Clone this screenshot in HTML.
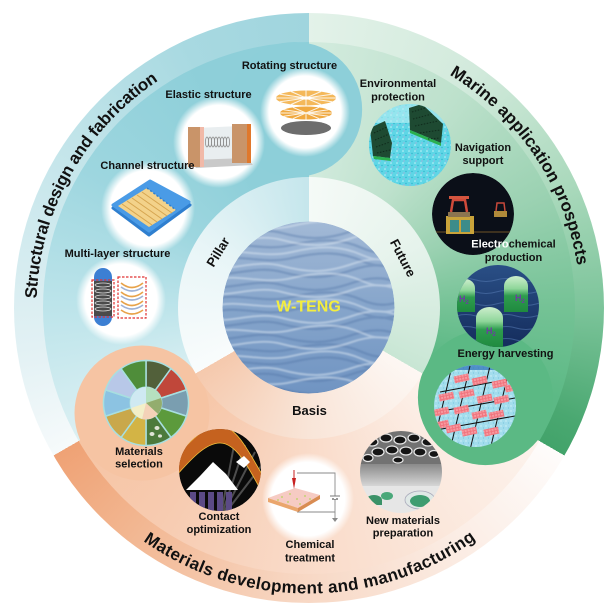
<!DOCTYPE html>
<html><head><meta charset="utf-8">
<style>
html,body{margin:0;padding:0;background:#fff;}
#root{position:relative;width:613px;height:610px;overflow:hidden;background:#fff;font-family:"Liberation Sans",Arial,sans-serif;}
.ring{position:absolute;border-radius:50%;}
svg{position:absolute;left:0;top:0;}
</style></head><body>
<div id="root">
<div class="ring" style="left:13.5px;top:12.5px;width:590px;height:590px;background:conic-gradient(#e3f2e9 0deg,#d2eadc 35deg,#aad9bc 65deg,#7cc49a 90deg,#4aa871 113deg,#42a36a 120deg,#fefcfb 120deg,#fbebe2 150deg,#f7d5c0 185deg,#f2b58f 220deg,#efa275 240deg,#f6fafb 240deg,#e2f1f4 262deg,#c6e6eb 300deg,#a8d9e1 335deg,#a0d5de 360deg);"></div>
<div class="ring" style="left:42.5px;top:41.5px;width:532px;height:532px;background:conic-gradient(#d3ebde 0deg,#bde1cc 35deg,#9ad1b1 65deg,#74c295 90deg,#5cb985 110deg,#5bb984 120deg,#fdf3ed 120deg,#fbe7db 150deg,#f9d9c6 185deg,#f7cbb0 215deg,#f6c4a3 240deg,#dcf0f3 240deg,#bfe5eb 268deg,#9dd6df 302deg,#8ecfd9 335deg,#8dcfd9 360deg);"></div>
<svg width="613" height="610" viewBox="0 0 613 610">
<circle cx="294.65" cy="109.5" r="67.5" fill="#8dcfd9"/>
<circle cx="485.4" cy="397.6" r="67.5" fill="#5bb984"/>
<circle cx="142" cy="413" r="67.5" fill="#f6c4a3"/>
</svg>
<div class="ring" style="left:177.5px;top:176.5px;width:262px;height:262px;background:conic-gradient(#f5faf7 0deg,#e6f3ec 60deg,#c8e6d4 120deg,#fdf7f3 120deg,#f9e5d8 180deg,#f5c9ad 240deg,#f9fcfc 240deg,#e8f5f7 300deg,#c5e6ec 360deg);"></div>
<svg width="613" height="610" viewBox="0 0 613 610">
<defs>
<radialGradient id="wg"><stop offset="0" stop-color="#fff"/><stop offset="0.8" stop-color="#fff"/><stop offset="1" stop-color="#fff" stop-opacity="0"/></radialGradient>
<linearGradient id="sea" x1="0" y1="0" x2="0" y2="1"><stop offset="0" stop-color="#a2b9d6"/><stop offset="0.5" stop-color="#86a5cb"/><stop offset="1" stop-color="#7094c2"/></linearGradient>
<linearGradient id="capg" x1="0" y1="0" x2="0" y2="1"><stop offset="0" stop-color="#cdeecd"/><stop offset="0.35" stop-color="#8fd69a"/><stop offset="0.55" stop-color="#2e9c4e"/><stop offset="1" stop-color="#1f8a3f"/></linearGradient>
<linearGradient id="ocean" x1="0" y1="0" x2="0" y2="1"><stop offset="0" stop-color="#2a4f86"/><stop offset="1" stop-color="#142c5c"/></linearGradient>
<linearGradient id="nmg" x1="0" y1="0" x2="0" y2="1"><stop offset="0" stop-color="#8a8a8a"/><stop offset="1" stop-color="#d6d6d6"/></linearGradient>
<filter id="soft" x="-5%" y="-5%" width="110%" height="110%"><feGaussianBlur stdDeviation="0.7"/></filter>
<pattern id="spk" width="6" height="6" patternUnits="userSpaceOnUse"><rect width="6" height="6" fill="#5fd6e6"/><circle cx="1" cy="1" r="0.8" fill="#c4f3f8"/><circle cx="4" cy="3.5" r="0.7" fill="#2fb4cc"/><circle cx="2" cy="5" r="0.5" fill="#ee7fd0"/></pattern>
<pattern id="spk2" width="5" height="5" patternUnits="userSpaceOnUse"><rect width="5" height="5" fill="#a3dded"/><circle cx="1" cy="1" r="0.7" fill="#d6f3f8"/><circle cx="3.5" cy="3" r="0.6" fill="#78c7dc"/></pattern>
<pattern id="pk" width="3" height="3" patternUnits="userSpaceOnUse"><rect width="3" height="3" fill="#f0747e"/><rect width="2" height="2" fill="#f79aa0"/></pattern>
<clipPath id="cw"><circle cx="308.5" cy="307.5" r="86"/></clipPath>
<clipPath id="c5"><circle cx="410" cy="145" r="41"/></clipPath>
<clipPath id="c6"><circle cx="473" cy="214" r="41"/></clipPath>
<clipPath id="c7"><circle cx="498" cy="306" r="41"/></clipPath>
<clipPath id="c8"><circle cx="475" cy="406" r="41"/></clipPath>
<clipPath id="c10"><circle cx="220" cy="470" r="41"/></clipPath>
<clipPath id="c12"><circle cx="401" cy="472" r="41"/></clipPath>
<path id="pStruct" d="M36.65,298.48 A272,272 0 0,1 158.37,80.68"/>
<path id="pMarine" d="M449.4,74.8 A272,272 0 0,1 577.3,265.9"/>
<path id="pMat" d="M143.23,540.92 A286,286 0 0,0 475.80,539.46"/>
</defs>

<!-- wave center -->
<g clip-path="url(#cw)" fill="none" stroke-linecap="round">
<circle cx="308.5" cy="307.5" r="86" fill="url(#sea)"/>
<g filter="url(#soft)">
<g stroke="#4f74a6" stroke-width="2.4" opacity="0.38">
<path d="M214,234 C232,238 256,226 282,233 S326,240 352,231 S392,227 412,236"/>
<path d="M214,260 C240,253 262,265 292,258 S342,252 362,261 S398,265 412,256"/>
<path d="M214,286 C232,290 256,278 282,285 S326,292 352,283 S392,279 412,288"/>
<path d="M214,312 C240,305 262,317 292,310 S342,304 362,313 S398,317 412,308"/>
<path d="M214,338 C232,342 256,330 282,337 S326,344 352,335 S392,331 412,340"/>
<path d="M214,364 C240,357 262,369 292,362 S342,356 362,365 S398,369 412,360"/>
<path d="M214,390 C232,394 256,382 282,389 S326,396 352,387 S392,383 412,392"/>
<path d="M214,247 C240,240 262,252 292,245 S342,239 362,248 S398,252 412,243"/>
<path d="M214,273 C232,277 256,265 282,272 S326,279 352,270 S392,266 412,275"/>
<path d="M214,299 C240,292 262,304 292,297 S342,291 362,300 S398,304 412,295"/>
<path d="M214,325 C232,329 256,317 282,324 S326,331 352,322 S392,318 412,327"/>
<path d="M214,351 C240,344 262,356 292,349 S342,343 362,352 S398,356 412,347"/>
<path d="M214,377 C232,381 256,369 282,376 S326,383 352,374 S392,370 412,379"/>
</g>
<g stroke="#d8e3f0" stroke-width="2" opacity="0.55">
<path d="M214,228 C240,221 262,233 292,226 S342,220 362,229 S398,233 412,224"/>
<path d="M214,241 C232,245 256,233 282,240 S326,247 352,238 S392,234 412,243"/>
<path d="M214,254 C240,247 262,259 292,252 S342,246 362,255 S398,259 412,250"/>
<path d="M214,267 C232,271 256,259 282,266 S326,273 352,264 S392,260 412,269"/>
<path d="M214,280 C240,273 262,285 292,278 S342,272 362,281 S398,285 412,276"/>
<path d="M214,293 C232,297 256,285 282,292 S326,299 352,290 S392,286 412,295"/>
<path d="M214,306 C240,299 262,311 292,304 S342,298 362,307 S398,311 412,302"/>
<path d="M214,319 C232,323 256,311 282,318 S326,325 352,316 S392,312 412,321"/>
<path d="M214,332 C240,325 262,337 292,330 S342,324 362,333 S398,337 412,328"/>
<path d="M214,345 C232,349 256,337 282,344 S326,351 352,342 S392,338 412,347"/>
<path d="M214,358 C240,351 262,363 292,356 S342,350 362,359 S398,363 412,354"/>
<path d="M214,371 C232,375 256,363 282,370 S326,377 352,368 S392,364 412,373"/>
<path d="M214,384 C240,377 262,389 292,382 S342,376 362,385 S398,389 412,380"/>
<path d="M214,397 C232,401 256,389 282,396 S326,403 352,394 S392,390 412,399"/>
</g>
</g>
</g>

<!-- Rotating structure -->
<circle cx="305" cy="112" r="45" fill="url(#wg)"/>
<ellipse cx="306" cy="128" rx="25" ry="7" fill="#6d6d6d"/>
<ellipse cx="306" cy="113" rx="26" ry="6.5" fill="#f0a940"/>
<g stroke="#fff" stroke-width="1" opacity="0.85">
<line x1="306" y1="113" x2="332" y2="113"/><line x1="306" y1="113" x2="328.5" y2="116.25"/><line x1="306" y1="113" x2="319" y2="118.6"/><line x1="306" y1="113" x2="306" y2="119.5"/><line x1="306" y1="113" x2="293" y2="118.6"/><line x1="306" y1="113" x2="283.5" y2="116.25"/><line x1="306" y1="113" x2="280" y2="113"/><line x1="306" y1="113" x2="283.5" y2="109.75"/><line x1="306" y1="113" x2="293" y2="107.4"/><line x1="306" y1="113" x2="319" y2="107.4"/><line x1="306" y1="113" x2="328.5" y2="109.75"/>
</g>
<ellipse cx="306" cy="98" rx="30" ry="7.5" fill="#f4b85a"/>
<g stroke="#fff" stroke-width="1" opacity="0.85">
<line x1="306" y1="98" x2="336" y2="98"/><line x1="306" y1="98" x2="332" y2="101.75"/><line x1="306" y1="98" x2="321" y2="104.5"/><line x1="306" y1="98" x2="306" y2="105.5"/><line x1="306" y1="98" x2="291" y2="104.5"/><line x1="306" y1="98" x2="280" y2="101.75"/><line x1="306" y1="98" x2="276" y2="98"/><line x1="306" y1="98" x2="280" y2="94.25"/><line x1="306" y1="98" x2="291" y2="91.5"/><line x1="306" y1="98" x2="306" y2="90.5"/><line x1="306" y1="98" x2="321" y2="91.5"/><line x1="306" y1="98" x2="332" y2="94.25"/>
</g>
<ellipse cx="306" cy="98" rx="6" ry="1.6" fill="#fff"/>

<!-- Elastic -->
<circle cx="219" cy="142" r="46" fill="url(#wg)"/>
<polygon points="196,128 240,126 246,160 190,162" fill="#e9eef0"/>
<polygon points="190,160 247,158 253,165 196,168" fill="#c9c9c9"/>
<rect x="188" y="127" width="13" height="40" fill="#c99469"/>
<rect x="200" y="127" width="4" height="40" fill="#f1b9a8"/>
<rect x="232" y="124" width="16" height="39" fill="#c99469"/>
<rect x="247" y="124" width="4" height="39" fill="#e0782c"/>
<g fill="none" stroke="#8f8f8f" stroke-width="0.8">
<ellipse cx="207" cy="142" rx="1.6" ry="5"/><ellipse cx="210" cy="142" rx="1.6" ry="5"/><ellipse cx="213" cy="142" rx="1.6" ry="5"/><ellipse cx="216" cy="142" rx="1.6" ry="5"/><ellipse cx="219" cy="142" rx="1.6" ry="5"/><ellipse cx="222" cy="142" rx="1.6" ry="5"/><ellipse cx="225" cy="142" rx="1.6" ry="5"/><ellipse cx="228" cy="142" rx="1.6" ry="5"/>
</g>

<!-- Channel -->
<circle cx="148" cy="208" r="47" fill="url(#wg)"/>
<polygon points="113,208 150,184 190,205 149,235" fill="#2f7fcf" stroke="#2f7fcf" stroke-width="3" stroke-linejoin="round"/>
<polygon points="113,205 150,181 189,202 149,231" fill="#4a9be6" stroke="#4a9be6" stroke-width="3" stroke-linejoin="round"/>
<polygon points="118,206 147,188 176,210 149,227" fill="#f3d28a"/>
<g stroke="#d6a550" stroke-width="1">
<line x1="122" y1="204" x2="152" y2="225"/><line x1="127" y1="201" x2="157" y2="222"/><line x1="132" y1="198" x2="162" y2="219"/><line x1="137" y1="195" x2="167" y2="216"/><line x1="142" y1="192" x2="172" y2="213"/>
</g>
<line x1="147" y1="188" x2="176" y2="210" stroke="#2f7fcf" stroke-width="1.5" stroke-dasharray="2,2"/>

<!-- Multi-layer -->
<circle cx="121" cy="300" r="45" fill="url(#wg)"/>
<rect x="94" y="268" width="18" height="58" rx="9" fill="#3c7fd3"/>
<rect x="94" y="281" width="18" height="35" fill="#4a4a4a"/>
<g fill="none" stroke="#dcdcdc" stroke-width="0.8">
<ellipse cx="103" cy="285" rx="8" ry="2"/><ellipse cx="103" cy="291" rx="8" ry="2"/><ellipse cx="103" cy="297" rx="8" ry="2"/><ellipse cx="103" cy="303" rx="8" ry="2"/><ellipse cx="103" cy="309" rx="8" ry="2"/>
</g>
<rect x="92" y="280" width="22" height="37" fill="none" stroke="#e03030" stroke-width="1.2" stroke-dasharray="2.5,1.5"/>
<rect x="118" y="277" width="28" height="41" fill="none" stroke="#e03030" stroke-width="1.2" stroke-dasharray="2.5,1.5"/>
<g fill="none" stroke-width="1.6">
<path d="M121,283 Q132,292 143,283" stroke="#e8a34a"/><path d="M121,292 Q132,301 143,292" stroke="#e8a34a"/><path d="M121,301 Q132,310 143,301" stroke="#e8a34a"/><path d="M121,310 Q132,318 143,310" stroke="#e8a34a"/>
<path d="M121,287 Q132,295 143,287" stroke="#9fb2d6"/><path d="M121,296 Q132,304 143,296" stroke="#9fb2d6"/><path d="M121,305 Q132,313 143,305" stroke="#9fb2d6"/>
</g>

<!-- Environmental -->
<g clip-path="url(#c5)">
<rect x="368" y="103" width="84" height="84" fill="url(#spk)"/>
<rect x="368" y="103" width="84" height="20" fill="#b8eef4" opacity="0.6"/>
<polygon points="370,128 385,121 392,143 390,158 373,156" fill="#1e4a32"/>
<polygon points="373,156 390,158 391,161 374,159" fill="#2bb04e"/>
<polygon points="409,108 422,104 443,124 441,143 410,130" fill="#1e4a32"/>
<polygon points="410,130 441,143 441,146 410,133" fill="#2bb04e"/>
<g stroke="#0d2417" stroke-width="1" stroke-dasharray="1.5,1.5" opacity="0.8">
<line x1="374" y1="133" x2="387" y2="127"/><line x1="375" y1="140" x2="389" y2="134"/><line x1="376" y1="147" x2="390" y2="142"/><line x1="377" y1="153" x2="390" y2="150"/>
<line x1="412" y1="112" x2="425" y2="108"/><line x1="413" y1="119" x2="432" y2="114"/><line x1="415" y1="126" x2="438" y2="121"/><line x1="420" y1="133" x2="440" y2="130"/><line x1="428" y1="139" x2="440" y2="138"/>
</g>
</g>

<!-- Navigation -->
<g clip-path="url(#c6)">
<circle cx="473" cy="214" r="41" fill="#0b0f18"/>
<rect x="432" y="231" width="82" height="2" fill="#4a3a22" opacity="0.8"/>
<rect x="446" y="216" width="28" height="18" fill="#c9a33a"/>
<rect x="450" y="220" width="9" height="12" fill="#3d8c8a"/>
<rect x="461" y="220" width="9" height="12" fill="#3d8c8a"/>
<rect x="448" y="212" width="22" height="5" fill="#8b7450"/>
<path d="M451,212 L453,200 L465,200 L467,212" stroke="#d04a3a" fill="none" stroke-width="2.5"/>
<rect x="449" y="196" width="20" height="3" fill="#d4553f"/>
<rect x="494" y="211" width="13" height="6" fill="#b08a3a"/>
<path d="M496,211 L497,203 L504,203 L505,211" stroke="#c8483a" fill="none" stroke-width="1.5"/>
</g>

<!-- Electrochemical -->
<g clip-path="url(#c7)">
<rect x="456" y="264" width="84" height="84" fill="url(#ocean)"/>
<g stroke="#5478b0" stroke-width="1" fill="none" opacity="0.6">
<path d="M456,280 q10,-3 20,0 t20,0 t20,0 t20,0 t20,0"/><path d="M456,292 q10,-3 20,0 t20,0 t20,0 t20,0 t20,0"/><path d="M456,304 q10,-3 20,0 t20,0 t20,0 t20,0 t20,0"/><path d="M456,316 q10,-3 20,0 t20,0 t20,0 t20,0 t20,0"/><path d="M456,328 q10,-3 20,0 t20,0 t20,0 t20,0 t20,0"/><path d="M456,340 q10,-3 20,0 t20,0 t20,0 t20,0 t20,0"/>
</g>
<path d="M455,312 L455,288 A10,9 0 0 1 475,288 L475,312 Z" fill="url(#capg)"/>
<path d="M504,312 L504,286 A12,10 0 0 1 528,286 L528,312 Z" fill="url(#capg)"/>
<path d="M476,348 L476,318 A13.5,11 0 0 1 503,318 L503,348 Z" fill="url(#capg)"/>
<g font-family="Liberation Sans, Arial, sans-serif" font-weight="bold" font-size="9" fill="#6b3fa0">
<text x="459" y="302">H<tspan font-size="6" dy="2">2</tspan></text>
<text x="515" y="301">H<tspan font-size="6" dy="2">2</tspan></text>
<text x="486" y="334">H<tspan font-size="6" dy="2">2</tspan></text>
</g>
</g>

<!-- Energy harvesting mesh -->
<g clip-path="url(#c8)">
<rect x="433" y="364" width="84" height="84" fill="url(#spk2)"/>
<rect x="433" y="364" width="84" height="6" fill="#2c6fb8" opacity="0.7"/>
<g stroke="#111" stroke-width="1">
<line x1="452" y1="366" x2="432" y2="450"/><line x1="470" y1="366" x2="450" y2="450"/><line x1="490" y1="366" x2="470" y2="450"/><line x1="510" y1="366" x2="490" y2="450"/><line x1="528" y1="366" x2="508" y2="450"/>
<line x1="440" y1="392" x2="515" y2="378"/><line x1="436" y1="412" x2="515" y2="398"/><line x1="436" y1="430" x2="515" y2="416"/>
</g>
<g fill="url(#pk)">
<rect x="454" y="375" width="15" height="7" transform="rotate(-12 461 378)"/>
<rect x="472" y="377" width="15" height="7" transform="rotate(-12 480 380)"/>
<rect x="492" y="380" width="15" height="7" transform="rotate(-12 500 383)"/>
<rect x="505" y="385" width="10" height="7" transform="rotate(-12 508 388)"/>
<rect x="439" y="393" width="15" height="7" transform="rotate(-12 447 397)"/>
<rect x="459" y="390" width="15" height="7" transform="rotate(-12 467 393)"/>
<rect x="477" y="395" width="15" height="7" transform="rotate(-12 485 398)"/>
<rect x="494" y="396" width="15" height="7" transform="rotate(-12 502 400)"/>
<rect x="434" y="408" width="15" height="7" transform="rotate(-12 442 412)"/>
<rect x="454" y="406" width="15" height="7" transform="rotate(-12 462 410)"/>
<rect x="472" y="411" width="15" height="7" transform="rotate(-12 480 415)"/>
<rect x="489" y="411" width="15" height="7" transform="rotate(-12 497 415)"/>
<rect x="434" y="421" width="15" height="7" transform="rotate(-12 442 425)"/>
<rect x="446" y="425" width="15" height="7" transform="rotate(-12 453 428)"/>
<rect x="462" y="428" width="15" height="7" transform="rotate(-12 470 432)"/>
<rect x="484" y="428" width="15" height="7" transform="rotate(-12 492 432)"/>
</g>
</g>

<!-- Materials selection wheel -->
<g stroke="#a8dfe0" stroke-width="1.5">
<path d="M146,403 L146,360.5 A42.5,42.5 0 0 1 170.98,368.62 Z" fill="#52603a"/>
<path d="M146,403 L170.98,368.62 A42.5,42.5 0 0 1 186.42,389.87 Z" fill="#c0473a"/>
<path d="M146,403 L186.42,389.87 A42.5,42.5 0 0 1 186.42,416.13 Z" fill="#7a9eb0"/>
<path d="M146,403 L186.42,416.13 A42.5,42.5 0 0 1 170.98,437.38 Z" fill="#5c9a3c"/>
<path d="M146,403 L170.98,437.38 A42.5,42.5 0 0 1 146,445.5 Z" fill="#4c7a3c"/>
<path d="M146,403 L146,445.5 A42.5,42.5 0 0 1 121.02,437.38 Z" fill="#d3b445"/>
<path d="M146,403 L121.02,437.38 A42.5,42.5 0 0 1 105.58,416.13 Z" fill="#c9a84b"/>
<path d="M146,403 L105.58,416.13 A42.5,42.5 0 0 1 105.58,389.87 Z" fill="#8cc3e2"/>
<path d="M146,403 L105.58,389.87 A42.5,42.5 0 0 1 121.02,368.62 Z" fill="#b8c8e8"/>
<path d="M146,403 L121.02,368.62 A42.5,42.5 0 0 1 146,360.5 Z" fill="#4f8d3a"/>
</g>
<g fill="#f0f0e8" opacity="0.9">
<ellipse cx="157" cy="428" rx="2.5" ry="2"/><ellipse cx="152" cy="434" rx="2.5" ry="2"/><ellipse cx="160" cy="436" rx="2" ry="1.6"/>
</g>
<circle cx="146" cy="403" r="16" fill="#d8edd8" stroke="#a8dfe0" stroke-width="1"/>
<path d="M146,403 L146,387 A16,16 0 0 1 161,398 Z" fill="#b6e0bf"/>
<path d="M146,403 L161,398 A16,16 0 0 1 158,414 Z" fill="#93ad6e"/>
<path d="M146,403 L158,414 A16,16 0 0 1 142,419 Z" fill="#f4d2b8"/>
<path d="M146,403 L142,419 A16,16 0 0 1 131,408 Z" fill="#f3efc8"/>
<path d="M146,403 L131,408 A16,16 0 0 1 146,387 Z" fill="#cfe9f2"/>

<!-- Contact optimization -->
<g clip-path="url(#c10)">
<circle cx="220" cy="470" r="41" fill="#0a0a0a"/>
<g stroke="#6a6a6a" stroke-width="2" opacity="0.7">
<line x1="220" y1="520" x2="235" y2="440"/><line x1="220" y1="520" x2="245" y2="445"/><line x1="220" y1="520" x2="255" y2="452"/><line x1="220" y1="520" x2="262" y2="465"/>
</g>
<path d="M176,458 C190,440 205,426 220,426 C236,426 248,450 264,478 L264,496 C248,466 236,443 220,443 C206,443 192,458 176,476 Z" fill="#c5621f" stroke="#f3c13a" stroke-width="0.8"/>
<polygon points="186,490 200,476 213,462 226,474 238,490" fill="#fff"/>
<polygon points="236,462 244,456 250,462 244,468" fill="#fff"/>
<g fill="#5b4a86">
<rect x="190" y="492" width="6" height="22"/><rect x="199" y="492" width="6" height="22"/><rect x="208" y="492" width="6" height="22"/><rect x="217" y="492" width="6" height="22"/><rect x="226" y="492" width="6" height="22"/>
</g>
</g>

<!-- Chemical treatment -->
<circle cx="308" cy="499" r="46" fill="url(#wg)"/>
<path d="M297,473 L335,473 L335,512 L297,512" fill="none" stroke="#8a8a8a" stroke-width="0.9"/>
<line x1="330" y1="496" x2="340" y2="496" stroke="#777" stroke-width="1"/>
<line x1="332" y1="499" x2="338" y2="499" stroke="#777" stroke-width="1.5"/>
<rect x="334" y="496.5" width="2" height="2.5" fill="#fff"/>
<line x1="335" y1="512" x2="335" y2="519" stroke="#8a8a8a" stroke-width="0.9"/>
<polygon points="332,518 338,518 335,522" fill="#8a8a8a"/>
<polygon points="268,498 295,488 320,495 298,508" fill="#f6cbc3"/>
<polygon points="268,498 298,508 298,512 268,502" fill="#eaa66d"/>
<polygon points="298,508 320,495 320,499 298,512" fill="#d98c52"/>
<g fill="#b6d65a"><circle cx="282" cy="497" r="0.9"/><circle cx="290" cy="494" r="0.9"/><circle cx="297" cy="499" r="0.9"/><circle cx="305" cy="496" r="0.9"/><circle cx="288" cy="502" r="0.9"/><circle cx="300" cy="504" r="0.9"/><circle cx="310" cy="499" r="0.9"/><circle cx="278" cy="500" r="0.9"/></g>
<line x1="294" y1="470" x2="294" y2="478" stroke="#c82020" stroke-width="1"/>
<polygon points="292,478 296,478 294,489" fill="#c82020"/>

<!-- New materials -->
<g clip-path="url(#c12)">
<rect x="360" y="431" width="82" height="33" fill="#727272"/>
<g fill="#151515" stroke="#e8e8e8" stroke-width="1.2">
<ellipse cx="372" cy="442" rx="6" ry="4"/><ellipse cx="386" cy="438" rx="6" ry="4"/><ellipse cx="400" cy="440" rx="6" ry="4"/><ellipse cx="414" cy="438" rx="6" ry="4"/><ellipse cx="428" cy="442" rx="6" ry="4"/>
<ellipse cx="378" cy="452" rx="6" ry="4"/><ellipse cx="392" cy="450" rx="6" ry="4"/><ellipse cx="406" cy="451" rx="6" ry="4"/><ellipse cx="420" cy="452" rx="6" ry="4"/><ellipse cx="434" cy="454" rx="5" ry="3.5"/>
<ellipse cx="368" cy="458" rx="5" ry="3.5"/><ellipse cx="398" cy="460" rx="5" ry="3"/>
</g>
<rect x="360" y="464" width="82" height="22" fill="url(#nmg)"/>
<rect x="360" y="486" width="82" height="28" fill="#e6e6e6"/>
<ellipse cx="420" cy="500" rx="15" ry="9" fill="#dfe8e6" stroke="#aab" stroke-width="0.8"/>
<ellipse cx="420" cy="501" rx="10" ry="6" fill="#3f9d70"/>
<ellipse cx="374" cy="500" rx="8" ry="5" fill="#3b9268"/>
<ellipse cx="387" cy="496" rx="6" ry="4" fill="#4aa87a"/>
<rect x="366" y="500" width="16" height="5" fill="#3b9268"/>
</g>

<!-- Labels -->
<g font-family="Liberation Sans, Arial, sans-serif" font-weight="bold" font-size="11" fill="#111" text-anchor="middle">
<text x="289.5" y="69">Rotating structure</text>
<text x="208.5" y="98">Elastic structure</text>
<text x="147.5" y="169">Channel structure</text>
<text x="117.5" y="257">Multi-layer structure</text>
<text x="398" y="87">Environmental</text>
<text x="398" y="100.5">protection</text>
<text x="483" y="151">Navigation</text>
<text x="483" y="164">support</text>
<text x="513.5" y="247.7"><tspan fill="#fff">Electro</tspan>chemical</text>
<text x="513.5" y="261">production</text>
<text x="505.5" y="357">Energy harvesting</text>
<text x="139" y="455">Materials</text>
<text x="139" y="467.7">selection</text>
<text x="219" y="520">Contact</text>
<text x="219" y="533">optimization</text>
<text x="310" y="548">Chemical</text>
<text x="310" y="561.5">treatment</text>
<text x="403" y="524">New materials</text>
<text x="403" y="536.7">preparation</text>
</g>

<g font-family="Liberation Sans, Arial, sans-serif" font-weight="bold" font-size="13" fill="#111" text-anchor="middle">
<text x="309.5" y="415">Basis</text>
<text x="0" y="0" dominant-baseline="central" transform="translate(218 252) rotate(-58.5)">Pillar</text>
<text x="0" y="0" dominant-baseline="central" transform="translate(403 258) rotate(62.4)">Future</text>
</g>
<text x="308.5" y="311.7" text-anchor="middle" font-family="Liberation Sans, Arial, sans-serif" font-weight="bold" font-size="16" fill="#f4ee3e">W-TENG</text>

<g font-family="Liberation Sans, Arial, sans-serif" font-weight="bold" font-size="17" fill="#111">
<text><textPath href="#pStruct" textLength="259" lengthAdjust="spacing">Structural design and fabrication</textPath></text>
<text><textPath href="#pMarine" textLength="237" lengthAdjust="spacing">Marine application prospects</textPath></text>
<text><textPath href="#pMat" textLength="355" lengthAdjust="spacing">Materials development and manufacturing</textPath></text>
</g>
</svg>
</div>
</body></html>
